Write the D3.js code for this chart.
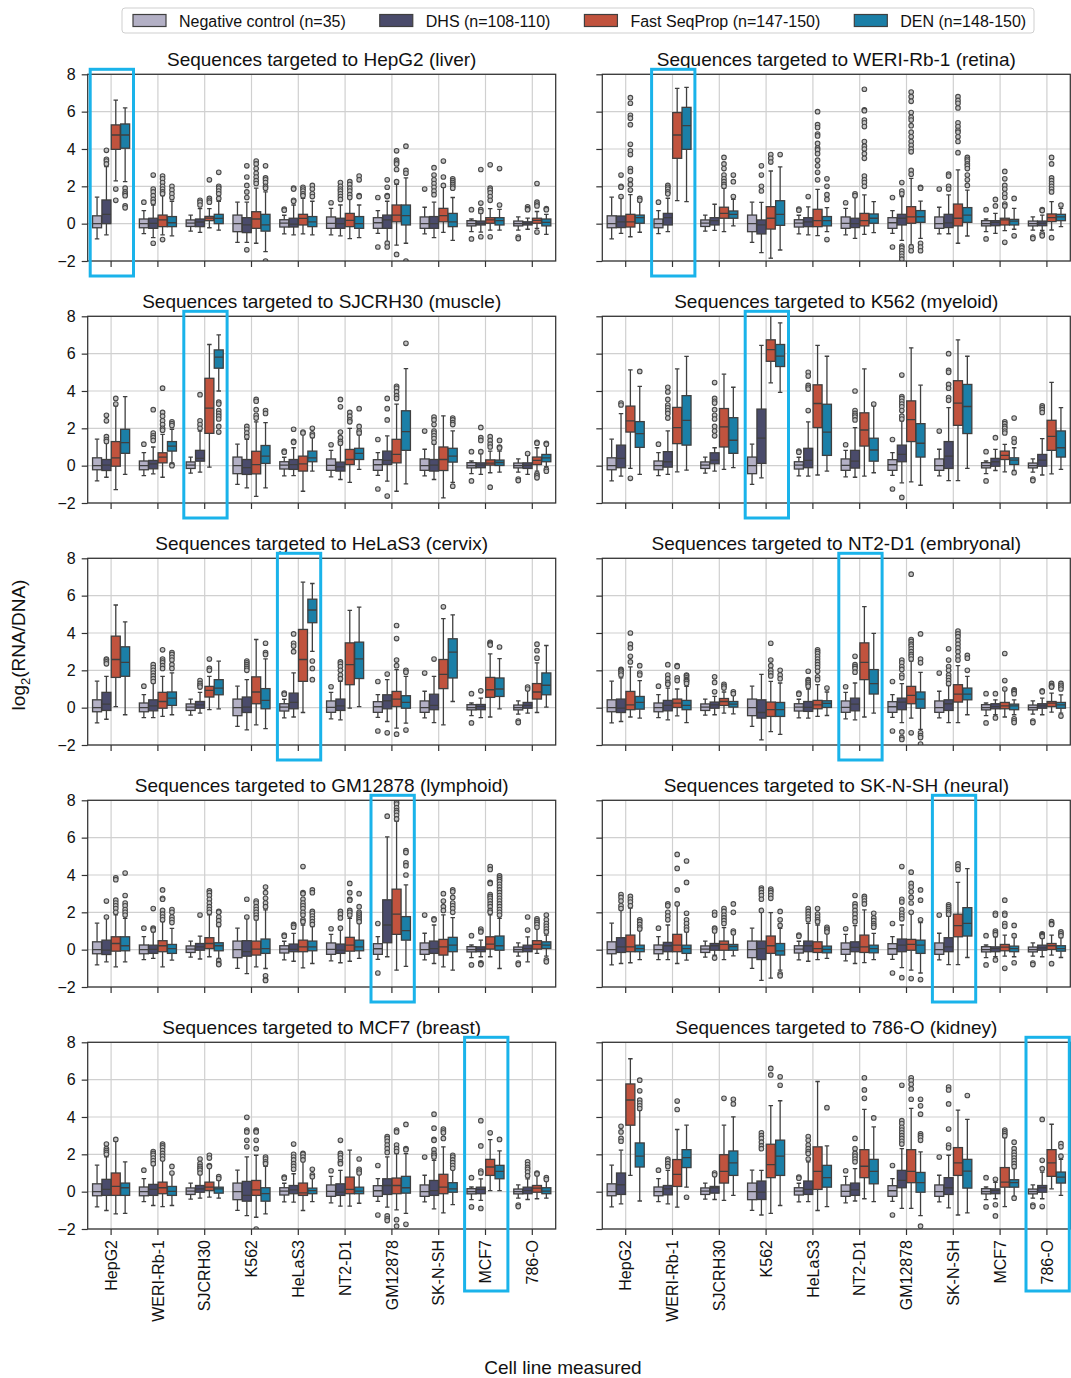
<!DOCTYPE html>
<html>
<head>
<meta charset="utf-8">
<script src="https://cdn.jsdelivr.net/npm/d3@7"></script>
<style>
  body { margin: 0; background: #fff; }
  text { font-family: "Liberation Sans", Arial, Helvetica, sans-serif; fill: #111; }
</style>
</head>
<body>
<svg id="chart" width="1071" height="1378"></svg>
<script>
// Cell lines in which expression was measured (x categories, same in every panel)
const cellLines = ["HepG2", "WERI-Rb-1", "SJCRH30", "K562", "HeLaS3", "NT2-D1", "GM12878", "SK-N-SH", "MCF7", "786-O"];
// Tissue of origin for each targeted cell line (panel titles)
const tissues = ["liver", "retina", "muscle", "myeloid", "cervix", "embryonal", "lymphoid", "neural", "breast", "kidney"];
const seriesNames = ["Negative control (n=35)", "DHS (n=108-110)", "Fast SeqProp (n=147-150)", "DEN (n=148-150)"];
const yTicks = [-2, 0, 2, 4, 6, 8];

// Box statistics: [lower whisker, Q1, median, Q3, upper whisker, [outliers]]
// Negative controls are the same sequences in every panel, one box per measured cell line.
const negControl = [
  [-0.82, -0.22, 0, 0.42, 1.42, []],
  [-0.53, -0.22, 0, 0.25, 0.7, [1.15]],
  [-0.4, -0.15, 0.03, 0.2, 0.46, []],
  [-1.0, -0.43, 0, 0.46, 1.15, []],
  [-0.55, -0.18, 0.03, 0.21, 0.45, [0.78, 0.72]],
  [-0.6, -0.25, 0.02, 0.36, 0.82, [1.12]],
  [-0.52, -0.25, 0.05, 0.32, 0.7, [1.4, -1.25]],
  [-0.55, -0.25, 0, 0.36, 0.88, [1.85]],
  [-0.43, -0.12, 0, 0.16, 0.25, [0.75, -0.82]],
  [-0.35, -0.12, 0, 0.14, 0.36, [-0.72, -0.8]]
];

// One array per targeted cell line; each row = measured line, boxes = [DHS, Fast SeqProp, DEN]
const targetHepG2 = [
  [[-0.6, 0, 0.5, 1.27, 3.05, [3.93, 3.45, 3.35, 3.2]], [2.29, 3.98, 4.75, 5.29, 6.62, [1.85, 1.25]], [2.25, 4.04, 4.75, 5.34, 6.2, [1.9, 1.7, 1.6, 1.5, 0.95, 0.85]]],
  [[-0.75, -0.25, 0.02, 0.29, 1.0, [2.6, 1.85, 1.7, 1.5, 1.3, 1.15, -1.05]], [-0.6, -0.16, 0.2, 0.46, 1.5, [2.55, 2.4, 2.2, 2.0, 1.85, 1.7, 1.6, -0.85]], [-0.65, -0.16, 0.05, 0.38, 1.2, [2.0, 1.8, 1.6, 1.4]]],
  [[-0.47, -0.16, 0.09, 0.25, 0.8, [1.25, 1.15, 1.0]], [-0.22, 0.16, 0.3, 0.39, 0.8, [2.35, 1.35, 1.25, 1.15]], [-0.35, 0, 0.28, 0.5, 1.2, [2.75, 2.0, 1.9, 1.75, 1.6, 1.35]]],
  [[-1.0, -0.48, -0.07, 0.32, 1.15, [3.1, 2.5, 2.05, 1.7, 1.4, -1.4]], [-1.05, -0.25, 0.25, 0.64, 1.9, [3.35, 3.2, 2.95, 2.7, 2.5, 2.3, 2.15]], [-1.5, -0.4, -0.07, 0.5, 1.7, [3.1, 2.45, 2.35, 2.2, 2.0, 1.9, -2.0]]],
  [[-0.6, -0.18, -0.03, 0.29, 1.0, [1.9, 1.85, 1.25, 1.2]], [-0.55, -0.07, 0.28, 0.5, 1.35, [1.95, 1.85, 1.75, 1.6, 1.5]], [-0.6, -0.16, 0.1, 0.38, 1.2, [2.05, 1.85, 1.6, 1.45]]],
  [[-0.65, -0.25, 0, 0.29, 1.0, [2.2, 2.0, 1.85, 1.75, 1.6, 1.45, 1.3]], [-0.8, -0.16, 0.18, 0.55, 1.35, [2.25, 2.1, 1.9, 1.75, 1.55, 1.4]], [-0.75, -0.25, 0, 0.38, 1.0, [2.55, 2.35, 1.5, 1.45]]],
  [[-0.95, -0.25, 0.2, 0.46, 1.2, [2.35, 1.95, 1.5, 1.45, -1.05, -1.25]], [-1.15, 0.1, 0.46, 1.0, 2.1, [3.9, 3.4, 3.3, 3.2, 2.9, 2.25, -1.65]], [-1.05, -0.07, 0.43, 1.0, 2.45, [4.15, 2.85, 2.7, -2.0]]],
  [[-0.75, -0.25, 0, 0.38, 1.15, [3.0, 2.6, 2.35, 2.15, 1.95, 1.75, 1.55]], [-0.47, 0.1, 0.43, 0.82, 1.95, [3.35, 2.5, 2.05]], [-0.9, -0.16, 0.1, 0.55, 1.4, [2.4, 2.3, 2.2, 2.1, 2.0, 1.9]]],
  [[-0.45, -0.07, 0.02, 0.14, 0.55, [2.9, 1.1, 0.75, 0.65, -0.7]], [-0.35, 0.02, 0.2, 0.32, 0.8, [3.15, 1.9, 1.8, 1.65, 1.45, 1.25, -0.7]], [-0.35, -0.07, 0.16, 0.32, 0.77, [2.95, 1.0]]],
  [[-0.3, -0.07, 0.02, 0.1, 0.3, [0.9, 0.8, 0.75]], [-0.25, 0.02, 0.18, 0.29, 0.65, [2.15, 1.15, 1.05, 0.95, -0.45]], [-0.57, -0.12, 0.07, 0.25, 0.5, [0.8, 0.75]]]
];

const targetWERI = [
  [[-0.52, -0.21, 0.1, 0.41, 1.36, [2.6, 2.0, 1.95, 1.45]], [-0.7, -0.18, 0.1, 0.5, 1.55, [6.75, 6.45, 5.8, 5.65, 5.3, 4.25, 3.9, 3.7, 2.95, 2.8, 2.35, 2.1, 1.8]], [-0.46, 0.02, 0.32, 0.46, 1.18, [1.35, 1.25]]],
  [[-0.43, -0.07, 0.32, 0.55, 1.36, [2.05, 1.95, 1.85, 1.7, 1.6]], [1.23, 3.5, 4.75, 5.95, 7.25, []], [1.18, 3.98, 5.25, 6.23, 7.3, []]],
  [[-0.36, -0.07, 0.16, 0.32, 1.04, []], [-0.43, 0.29, 0.55, 0.88, 1.9, [3.55, 3.2, 2.95, 2.6, 2.4, 2.25, 2.1, 2.0]], [-0.12, 0.29, 0.5, 0.68, 1.3, [2.6, 2.25, 1.45]]],
  [[-1.55, -0.55, -0.07, 0.2, 1.14, [3.1, 2.6, 2.0, 1.75]], [-1.85, -0.29, 0.29, 0.91, 2.82, [3.7, 3.5, 3.3]], [-1.41, -0.09, 0.5, 1.23, 3.04, [3.7]]],
  [[-0.6, -0.16, 0.1, 0.32, 0.9, [1.45]], [-0.64, -0.16, 0.16, 0.77, 1.84, [6.0, 5.3, 5.15, 4.8, 4.7, 4.3, 4.05, 3.95, 3.75, 3.4, 3.1, 2.75, 2.35]], [-0.43, -0.12, 0.16, 0.38, 0.86, [2.4, 2.0, 1.55, 1.3, -0.85]]],
  [[-0.79, -0.21, 0, 0.29, 1.45, [1.6, 1.5]], [-0.57, -0.12, 0.16, 0.55, 1.54, [7.2, 6.1, 6.05, 5.55, 5.4, 5.2, 4.4, 4.15, 4.0, 3.75, 3.5, 2.55, 2.35, 2.2, 2.0]], [-0.48, 0.02, 0.29, 0.52, 1.18, []]],
  [[-0.9, -0.07, 0.29, 0.5, 1.45, [2.2, 1.75, 1.6, -1.2, -1.3, -1.45, -1.6, -1.75, -1.9]], [-1.14, 0.02, 0.36, 0.91, 2.43, [7.05, 6.8, 6.55, 5.95, 5.7, 5.55, 5.25, 4.9, 4.65, 4.4, 4.2, 4.0, 3.85, 2.85, 2.65, -1.25, -1.45]], [-0.79, 0.07, 0.37, 0.7, 1.21, [1.95, 1.9, -1.05, -1.25, -1.45]]],
  [[-0.54, -0.21, 0.04, 0.5, 1.54, [2.65, 2.55, 2.0, 1.85]], [-1.05, -0.12, 0.29, 1.05, 2.88, [6.8, 6.6, 6.45, 6.2, 5.4, 5.2, 5.0, 4.9, 4.65, 4.4, 3.8]], [-0.66, 0.07, 0.46, 0.86, 1.8, [3.55, 3.45, 3.35, 3.2, 3.1, 2.95, 2.6, 2.35, 2.05]]],
  [[-0.52, -0.11, 0.07, 0.16, 0.55, [1.3, 0.95]], [-0.37, -0.07, 0.2, 0.29, 0.91, [2.8, 2.4, 2.05, 1.85, 1.6, 1.4, 1.05, 0.95, -1.0]], [-0.3, -0.07, 0.14, 0.23, 0.82, [1.35, -0.65]]],
  [[-0.36, -0.11, 0.02, 0.14, 0.46, [0.75, 0.7, -0.55, -0.65]], [-0.34, 0.11, 0.32, 0.52, 1.18, [3.55, 3.2, 2.45, 2.3, 2.15, 2.0, 1.85, 1.7, -0.75]], [-0.16, 0.16, 0.36, 0.5, 0.82, [1.0]]]
];

const targetSJCRH30 = [
  [[-0.62, -0.26, 0.03, 0.33, 1.23, [2.7, 2.4, 1.55, 1.4, 1.3]], [-1.28, -0.03, 0.42, 1.29, 3.2, [3.6, 3.3]], [-0.47, 0.66, 1.23, 1.95, 3.7, []]],
  [[-0.44, -0.17, 0.1, 0.28, 1.0, [3.0, 1.75, 1.6, 1.5, 1.35]], [-0.62, 0.15, 0.46, 0.69, 1.68, [4.15, 2.85, 2.65, 2.4, 2.2, 2.0, 1.9]], [0.15, 0.78, 1.05, 1.29, 1.95, [2.35, 2.25, 2.15, 0.05, 0.0]]],
  [[-0.35, 0.24, 0.39, 0.82, 1.85, [3.8, 2.4, 2.2, 2.0]], [-0.08, 1.73, 3.08, 4.68, 6.49, []], [4.0, 5.22, 5.81, 6.2, 7.0, [3.4, 3.3, 2.95, 2.8, 2.65, 2.5, 2.1, 1.8]]],
  [[-1.19, -0.47, -0.11, 0.33, 1.41, [2.1, 1.95, 1.75, 1.55]], [-1.64, -0.44, 0.06, 0.77, 2.35, [3.55, 3.45, 3.0, 2.7, 2.55]], [-1.19, 0.12, 0.51, 1.08, 2.3, [2.95, 2.8]]],
  [[-0.53, -0.2, 0.06, 0.33, 0.96, [1.95, 1.3, 1.25]], [-1.37, -0.29, 0.1, 0.51, 1.7, [1.8, 1.75]], [-0.29, 0.21, 0.42, 0.78, 1.5, [2.0, 1.7, 1.6]]],
  [[-0.74, -0.29, -0.06, 0.19, 1.14, [3.55, 3.15, 1.8, 1.5, 1.3, 1.2]], [-0.89, 0.06, 0.33, 0.87, 2.0, [2.85, 2.65, 2.45, 2.35]], [-0.2, 0.33, 0.66, 0.93, 1.65, [3.05, 2.1, 1.85, 1.75]]],
  [[-0.83, 0.06, 0.28, 0.78, 1.59, [3.6, 3.05, 2.45, -1.63]], [-1.37, 0.15, 0.6, 1.41, 3.3, [4.25, 4.15, 3.95, 3.75, 3.6]], [-0.98, 0.82, 1.82, 2.94, 5.2, [6.55]]],
  [[-0.74, -0.29, 0.03, 0.33, 1.14, [2.6, 2.45, 2.2, 1.85, 1.75, 1.6, 1.45, 1.25]], [-1.73, -0.26, 0.33, 1.0, 2.67, []], [-0.89, 0.19, 0.51, 0.93, 1.86, [2.55, 2.45, 2.3, 2.2, -1.1]]],
  [[-0.47, -0.11, 0.03, 0.15, 0.64, [2.05, 1.5, 1.35, 0.75]], [-0.38, 0.03, 0.14, 0.31, 0.78, [1.55, 1.35, 1.15, 1.0, -1.15]], [-0.35, 0.01, 0.17, 0.3, 0.78, [1.35, 1.0, 0.95]]],
  [[-0.47, -0.15, 0.01, 0.15, 0.55, [0.65]], [-0.29, 0.06, 0.28, 0.46, 0.96, [1.25, 1.2, -0.45, -0.55, -0.65]], [-0.05, 0.21, 0.42, 0.6, 1.1, [1.2, 1.15, -0.2, -0.3]]]
];

const targetK562 = [
  [[-0.56, -0.11, 0.39, 1.1, 2.79, [3.35, 3.25]], [-0.15, 1.8, 2.4, 3.19, 5.13, [-0.68]], [-0.47, 0.98, 1.72, 2.36, 4.25, [5.05]]],
  [[-0.47, -0.08, 0.21, 0.75, 1.86, [4.2, 3.95, 3.55, 3.25, 3.1, 2.95, 2.8, 2.55]], [-0.33, 1.18, 2.04, 3.12, 5.18, []], [-0.24, 1.1, 2.43, 3.75, 5.85, []]],
  [[-0.29, 0.1, 0.3, 0.69, 0.96, [4.45, 3.6, 3.45, 3.35, 3.0, 2.7, 2.5, 2.1, 1.85, 1.6]], [-0.2, 1.0, 2.08, 3.06, 4.9, []], [-0.11, 0.66, 1.36, 2.57, 4.2, []]],
  [[-0.65, 0.12, 1.47, 3.03, 6.44, []], [4.43, 5.59, 6.22, 6.74, 8.0, []], [3.93, 5.31, 5.87, 6.49, 7.65, []]],
  [[-0.56, -0.11, 0.28, 0.93, 2.34, [5.0, 4.8, 4.3, 4.2, 4.1, 2.95]], [-0.5, 2.04, 3.33, 4.33, 6.44, []], [-0.29, 0.55, 1.8, 3.29, 5.86, []]],
  [[-0.62, -0.13, 0.24, 0.82, 2.04, [4.0, 2.95, 2.8, 2.7, 2.6, 2.45]], [-0.56, 1.05, 1.91, 2.83, 5.18, []], [-0.38, 0.24, 0.84, 1.47, 3.2, [3.3]]],
  [[-0.92, 0.21, 0.6, 1.1, 2.4, [4.85, 3.7, 3.6, 3.45, 3.3, 3.15, 2.95, 2.65, 2.5, -1.7]], [-0.87, 1.29, 2.47, 3.47, 6.31, []], [-1.05, 0.46, 1.2, 2.25, 4.31, []]],
  [[-0.8, -0.15, 0.51, 1.29, 3.11, [6.0, 5.1, 5.0, 4.35, 4.15, 3.65, 3.5]], [-0.8, 2.16, 3.35, 4.55, 6.74, []], [-0.15, 1.72, 3.17, 4.35, 5.86, []]],
  [[-0.26, -0.03, 0.21, 0.39, 0.87, [1.5]], [-0.33, 0.33, 0.55, 0.78, 1.14, [2.35, 2.25, 2.1, 2.0, 1.85, 1.75]], [-0.26, 0.06, 0.3, 0.42, 0.96, [2.55, 1.45, 1.25, -0.38]]],
  [[-0.5, -0.03, 0.3, 0.6, 1.45, [3.2, 3.1, 3.0, 2.85]], [-0.44, 0.82, 1.57, 2.43, 4.46, []], [-0.2, 0.46, 0.96, 1.86, 3.11, []]]
];

const targetHeLaS3 = [
  [[-0.62, -0.15, 0.19, 0.82, 1.68, [2.6, 2.55, 2.45, 2.35]], [0.06, 1.62, 2.58, 3.83, 5.5, []], [-0.38, 1.68, 2.43, 3.26, 4.59, []]],
  [[-0.53, -0.17, 0.1, 0.42, 1.32, [2.3, 2.15, 2.0, 1.85, 1.7, 1.55, 1.4]], [-0.47, -0.03, 0.33, 0.82, 1.68, [3.1, 2.6, 2.5, 2.4, 2.25, 2.1]], [-0.38, 0.12, 0.51, 0.84, 1.86, [2.95, 2.85, 2.7, 2.55, 2.3, 2.1]]],
  [[-0.29, -0.03, 0.15, 0.33, 0.82, [1.45, 1.3, 1.2, 1.1]], [-0.11, 0.57, 0.93, 1.14, 1.68, [2.6, 2.1, 2.0]], [-0.06, 0.69, 1.05, 1.5, 2.49, []]],
  [[-1.19, -0.26, 0.03, 0.57, 1.5, [2.5, 2.4, 2.3, 2.2, 2.1, 2.0]], [-0.92, 0.21, 0.84, 1.65, 3.65, []], [-1.12, -0.06, 0.39, 1.02, 2.61, [3.45, 2.95, 2.85]]],
  [[-0.5, -0.06, 0.28, 0.78, 1.86, [3.95, 3.45, 3.3, 3.0]], [-0.26, 1.41, 2.58, 4.19, 6.72, []], [3.02, 4.55, 5.23, 5.81, 6.65, [2.5, 2.1, 1.5]]],
  [[-0.65, -0.15, 0.1, 0.46, 1.41, [2.45, 2.35, 2.2, 2.0, 1.75, 1.55]], [-0.03, 1.23, 2.31, 3.47, 5.21, []], [0.06, 1.56, 2.61, 3.51, 5.39, []]],
  [[-0.74, -0.06, 0.37, 0.69, 1.5, [1.8, -1.35]], [-1.1, 0.06, 0.46, 0.87, 2.04, [4.4, 3.7, 2.55, 2.25, -1.42]], [-0.83, -0.03, 0.28, 0.64, 1.68, [2.0, 1.9, -1.2]]],
  [[-0.8, -0.11, 0.12, 0.72, 1.68, [2.6]], [-0.92, 1.02, 1.78, 2.58, 4.77, [5.4]], [0.33, 1.59, 2.97, 3.69, 4.97, []]],
  [[-0.53, -0.11, 0.06, 0.17, 0.51, [0.9]], [-0.5, 0.55, 0.96, 1.62, 2.88, [3.5, 3.45, 3.4, 3.35]], [-0.06, 0.6, 1.0, 1.59, 2.63, [3.25]]],
  [[-0.29, -0.03, 0.12, 0.28, 0.96, [1.1, 1.0]], [-0.26, 0.46, 0.84, 1.29, 2.4, [3.4, 3.05, 2.65]], [0.03, 0.69, 1.2, 1.86, 3.33, []]]
];

const targetNT2D1 = [
  [[-0.74, -0.26, -0.03, 0.46, 1.59, [2.05, 2.0, 1.95, 1.85, 1.75]], [-0.5, -0.11, 0.15, 0.87, 2.18, [4.0, 3.4, 3.2, 2.75, 2.45]], [-0.56, -0.08, 0.28, 0.6, 1.45, [2.25, 1.85, 1.75]]],
  [[-0.65, -0.17, 0.12, 0.39, 1.05, [2.3, 1.75, 1.55, 1.35, 1.25]], [-0.44, 0.01, 0.24, 0.46, 1.0, [2.25, 2.2, 1.6, 1.45]], [-0.8, -0.11, 0.12, 0.39, 1.14, [1.75, 1.7, 1.6, 1.5, 1.45, 1.4, 1.3]]],
  [[-0.38, -0.03, 0.15, 0.3, 0.6, [1.65, 1.35, 0.85]], [-0.29, 0.12, 0.33, 0.49, 0.84, [1.25, 1.15, 1.05]], [-0.33, 0.03, 0.19, 0.33, 0.69, [0.85, 0.75]]],
  [[-1.73, -0.56, -0.26, 0.42, 1.78, []], [-1.28, -0.47, -0.11, 0.3, 1.41, [3.45, 2.55, 2.25, 2.0, 1.85, 1.7]], [-1.43, -0.47, -0.11, 0.28, 1.32, [2.0, 1.75, 1.55]]],
  [[-0.56, -0.2, 0.01, 0.33, 1.0, [1.95, 1.5, 1.45, 1.35, 1.25, 1.15]], [-0.47, -0.06, 0.15, 0.39, 1.23, [3.1, 3.0, 2.9, 2.75, 2.6, 2.45, 2.3, 2.15, 1.95, 1.65, 1.5]], [-0.42, 0.01, 0.23, 0.37, 0.84, [1.05]]],
  [[-0.65, -0.17, 0.19, 0.51, 1.32, [2.75, 2.3, 2.2, 2.1, 1.9]], [-0.5, 1.5, 2.43, 3.47, 5.41, []], [-0.29, 0.73, 1.29, 2.04, 3.98, []]],
  [[-0.8, -0.11, 0.3, 0.51, 1.29, [2.55, 2.4, 2.2, 2.05, 1.75, 1.6, -1.3, -1.6, -1.7]], [-0.56, 0.21, 0.66, 1.14, 2.49, [7.15, 3.65, 3.55, 3.4, 3.3, 3.15, 3.0, 2.85, 2.75, 2.6, -1.35]], [-1.16, -0.03, 0.46, 0.84, 1.89, [3.95, 2.6, 2.4, -1.35, -1.5, -1.6, -1.95]]],
  [[-0.8, -0.15, 0.21, 0.42, 1.18, [3.15, 2.55, 2.2, 2.0, 1.75, 1.6, 1.45, 1.3]], [-0.8, 0.3, 0.73, 1.23, 2.25, [4.1, 3.95, 3.8, 3.6, 3.4, 3.2, 3.0, 2.75, 2.55]], [-0.38, 0.42, 0.73, 1.05, 1.68, [2.8, 2.65, 2.0]]],
  [[-0.38, -0.06, 0.06, 0.21, 0.42, [0.75, -0.55]], [-0.5, -0.06, 0.1, 0.28, 0.96, [2.9, 1.45, 1.0]], [-0.38, -0.11, 0.1, 0.19, 0.42, [0.95, 0.9, 0.85, 0.75, -0.6, -0.7, -0.8]]],
  [[-0.38, -0.03, 0.1, 0.21, 0.51, [0.9, 0.85]], [-0.24, 0.06, 0.24, 0.33, 0.78, [1.3, 1.2, 1.15, 1.1]], [-0.29, -0.03, 0.15, 0.28, 0.69, [1.3, 1.2, 1.1, 1.0, -0.45]]]
];

const targetGM12878 = [
  [[-0.65, -0.26, -0.03, 0.51, 1.68, [2.6, 1.75]], [-0.92, -0.08, 0.33, 0.69, 1.86, [3.85, 3.75, 2.65, 2.5, 2.35, 2.2, 2.0]], [-0.65, -0.06, 0.21, 0.69, 1.68, [4.1, 2.9, 2.5, 2.35, 2.15, 2.0, 1.85]]],
  [[-0.47, -0.2, 0.01, 0.24, 0.96, [2.2, 1.15, 1.1, 1.05]], [-0.92, -0.11, 0.21, 0.48, 1.5, [3.2, 2.75, 2.7, 2.1, 1.9, 1.75, 1.6]], [-0.56, -0.2, 0.06, 0.28, 1.14, [2.15, 2.0, 1.75, 1.6, 1.45]]],
  [[-0.5, -0.03, 0.15, 0.33, 0.73, [1.85]], [-0.38, 0.06, 0.33, 0.64, 1.86, [3.15, 3.05, 2.9, 2.7, 2.5, 2.3, 2.15, 2.0]], [-0.47, -0.06, 0.21, 0.37, 1.23, [2.05, 2.0, 1.75, 1.55, 1.35, -0.6, -0.75, -0.8]]],
  [[-1.28, -0.35, -0.11, 0.48, 1.68, [2.7, 1.75]], [-0.92, -0.29, 0.03, 0.46, 1.59, [2.6, 2.5, 2.3, 2.15, 2.0, 1.85, 1.7]], [-1.01, -0.2, 0.06, 0.57, 2.13, [3.35, 3.05, 2.75, 2.5, 2.3, -1.4, -1.6, -1.65]]],
  [[-0.62, -0.11, 0.01, 0.3, 0.87, [1.35, 1.3, 1.2]], [-0.98, -0.11, 0.15, 0.51, 1.32, [4.45, 3.05, 3.0, 2.7, 2.5, 2.35, 2.2, 2.0, 1.85, 1.6, 1.5]], [-0.74, -0.06, 0.15, 0.46, 1.23, [3.2, 3.05, 2.05, 1.95, 1.8, 1.65, 1.5, 1.35]]],
  [[-0.7, -0.2, -0.03, 0.3, 1.1, [2.05, 1.9, 1.7, 1.15]], [-0.62, -0.08, 0.24, 0.66, 1.68, [3.55, 3.05, 2.7, 2.65, 2.1, 2.0, 1.85]], [-0.47, -0.06, 0.15, 0.51, 1.41, [3.0, 2.3, 2.0, 1.9, 1.8, 1.7, 1.6, 1.5]]],
  [[-0.38, 0.37, 1.32, 2.67, 6.04, [7.15]], [-1.1, 0.82, 1.9, 3.24, 6.89, [7.9, 7.8, 7.6, 7.45, 7.35, 7.2, 7.0]], [-0.89, 0.51, 1.02, 1.77, 3.47, [5.3, 5.2, 4.65, 4.5, 4.0]]],
  [[-0.74, -0.2, 0.06, 0.46, 1.32, [1.65, 1.6]], [-0.92, -0.29, 0.15, 0.55, 1.86, [3.0, 2.6, 2.3, 2.1]], [-1.1, -0.11, 0.24, 0.66, 1.72, [3.2, 3.1, 2.8, 2.5, 2.35, 2.2, 2.0]]],
  [[-0.38, -0.11, 0.01, 0.15, 0.51, [1.1, 1.0, 0.95, -0.7, -0.75, -0.8]], [-0.38, 0.03, 0.3, 0.69, 1.86, [4.45, 4.3, 3.6, 3.55, 2.95, 2.85, 2.75, 2.6, 2.45, 2.3, 2.1, 2.0]], [-1.01, -0.03, 0.21, 0.73, 1.68, [3.95, 3.85, 3.75, 3.65, 3.5, 3.35, 3.2, 3.05, 2.9, 2.75, 2.6, 2.45, 2.3, 2.15, 2.0, 1.85]]],
  [[-0.65, -0.11, 0.06, 0.24, 0.69, [1.75, 1.05]], [-0.2, 0.03, 0.28, 0.48, 1.14, [1.65, 1.55, 1.45, 1.35, 1.2]], [-0.35, 0.06, 0.24, 0.42, 0.78, [1.85, 1.6, 1.4, 1.25, 1.1, 0.95, -0.55, -0.65]]]
];

const targetSKNSH = [
  [[-0.74, -0.15, 0.15, 0.64, 2.13, [2.95, 2.8, 2.6, 2.35, 2.2]], [-0.7, -0.11, 0.15, 0.78, 2.22, [2.85, 2.7, 2.55, 2.35]], [-0.53, -0.11, 0.06, 0.24, 1.05, [1.6, 1.5, 1.35, 1.2, 1.1]]],
  [[-0.53, -0.11, 0.21, 0.39, 1.32, [2.45, 2.35, 2.0, 1.8, 1.6]], [-0.74, -0.11, 0.24, 0.82, 2.4, [5.1, 4.35, 3.2, 2.45]], [-0.56, -0.2, 0.06, 0.24, 0.96, [4.75, 3.6, 1.95, 1.6, 1.4, 1.2, 1.05]]],
  [[-0.3, -0.03, 0.21, 0.33, 0.96, [2.0, 1.85, 1.15, 1.1, 1.0, -0.45]], [-0.53, -0.03, 0.28, 0.46, 1.18, [2.2, 2.05, 1.85, 1.7, 1.55, 1.4]], [-0.33, -0.03, 0.17, 0.28, 0.87, [2.45, 2.0, 1.0, 0.9]]],
  [[-1.64, -0.53, 0.06, 0.46, 2.04, [3.3, 3.2, 3.05, 2.9, 2.7, 2.1]], [-1.52, -0.2, 0.21, 0.73, 1.98, [3.25, 3.15, 3.05, 2.9, 2.75]], [-1.1, -0.29, -0.06, 0.33, 1.14, [2.05, 1.6, 1.3, -1.3, -1.4]]],
  [[-0.62, -0.11, 0.21, 0.46, 1.41, [2.2, 2.05, 1.9, 1.75, 1.6]], [-0.53, -0.15, 0.06, 0.42, 1.32, [2.2, 1.9, 1.75, 1.6, 1.5]], [-0.47, -0.17, 0.01, 0.19, 0.87, [1.2, 1.1, 1.05, 0.95]]],
  [[-0.74, -0.11, 0.12, 0.42, 1.29, [2.9, 2.45, 2.3, 2.1, 1.9, 1.7, 1.5]], [-0.69, -0.15, 0.15, 0.78, 2.13, [2.85, 2.75, 2.6, 2.45]], [-0.53, -0.17, 0.06, 0.24, 0.87, [1.95, 1.7, 1.55, 1.4, 1.3, 1.2]]],
  [[-0.96, -0.11, 0.24, 0.57, 1.32, [4.45, 2.7, 2.55, 2.15, 1.95, 1.8, 1.65, -1.5]], [-1.1, -0.03, 0.28, 0.55, 1.95, [4.15, 3.55, 3.35, 3.1, 2.8, 2.5, 2.0, -1.55]], [-1.25, -0.2, 0.24, 0.51, 1.45, [3.2, 2.65, 1.6, -1.6]]],
  [[-0.8, -0.11, 0.15, 0.64, 1.78, [2.4, 2.3, 2.2, 2.1, 2.0, 1.9]], [-0.8, 0.69, 1.29, 1.9, 3.6, [4.6, 4.45, 4.3]], [-0.42, 0.73, 1.41, 2.25, 4.34, []]],
  [[-0.38, -0.11, 0.06, 0.15, 0.69, [1.95, 1.85, 1.0, 0.9, 0.8, -0.55]], [-0.35, -0.06, 0.14, 0.28, 0.78, [2.65, 1.95, 1.85, 1.4, 1.25, -1.0]], [-0.38, -0.11, 0.06, 0.19, 0.66, [1.3, 0.75, -0.7]]],
  [[-0.38, -0.03, 0.1, 0.24, 0.6, [0.85, 0.8, 0.75, 0.7]], [-0.29, 0.01, 0.21, 0.33, 0.78, [1.5, 1.4, 1.35, -0.75]], [-0.42, -0.08, 0.06, 0.21, 0.64, [0.95, 0.85, 0.75]]]
];

const targetMCF7 = [
  [[-1.01, -0.2, 0.12, 0.66, 1.86, [2.55, 2.3, 2.2, 2.1, 2.0]], [-1.19, -0.2, 0.28, 1.0, 2.7, [2.8]], [-1.16, -0.2, 0.21, 0.46, 1.59, []]],
  [[-0.74, -0.2, 0.12, 0.39, 1.41, [2.15, 2.05, 1.95, 1.8, 1.65, 1.5]], [-0.8, -0.11, 0.21, 0.51, 1.68, [2.55, 2.45, 2.35, 2.2, 2.05, 1.9, 1.75]], [-0.74, -0.2, 0.01, 0.28, 0.96, [1.35, 1.0]]],
  [[-0.35, -0.03, 0.15, 0.33, 0.96, [1.75, 1.5, 1.35, 1.25, 1.15, 1.0]], [-0.29, 0.06, 0.24, 0.51, 1.32, [1.95, 1.8, 1.4, 1.35]], [-0.35, -0.08, 0.15, 0.24, 0.6, [0.8, 0.7]]],
  [[-1.28, -0.51, -0.2, 0.55, 1.86, [3.98, 3.3, 3.2, 2.75, 2.4]], [-1.37, -0.2, 0.1, 0.6, 1.95, [3.3, 3.25, 3.2, 2.75, 2.3, -2.0]], [-1.19, -0.51, -0.11, 0.21, 1.36, [1.85, 1.75, 1.6, 1.5]]],
  [[-0.56, -0.11, 0.1, 0.33, 0.96, [2.55, 2.0, 1.85, 1.7, 1.5, 1.35, 1.2]], [-1.01, -0.2, -0.06, 0.46, 1.68, [2.05, 2.0, 1.85, 1.7]], [-0.53, -0.11, 0.06, 0.19, 0.78, [1.2, 0.9, 0.8]]],
  [[-0.78, -0.2, -0.03, 0.42, 1.14, [2.75, 2.05, 1.95, 1.8, 1.6, 1.5]], [-0.78, -0.11, 0.12, 0.78, 2.22, []], [-0.62, -0.11, 0.03, 0.24, 0.96, [1.75, 1.2, 1.1, 1.0]]],
  [[-0.83, -0.15, 0.33, 0.69, 1.86, [2.95, 2.85, 2.7, 2.5, 2.3, 2.1, -1.3, -1.45, -1.55]], [-0.98, -0.11, 0.33, 0.73, 2.04, [3.3, 3.2, 2.5, 2.3, 2.15, -1.5, -1.85]], [-1.16, -0.08, 0.21, 0.82, 2.04, [3.6, 2.3, 2.25, -1.75]]],
  [[-0.92, -0.2, 0.06, 0.6, 1.68, [4.15, 3.4, 2.8, 2.75, 2.25, 2.05, 1.95, 1.85]], [-1.14, -0.11, 0.24, 0.93, 2.4, [3.35, 3.25, 3.15, 2.85]], [-0.69, -0.03, 0.15, 0.48, 1.2, [1.95, 1.85, 1.7, 1.55, 1.4, 1.25]]],
  [[-0.47, -0.11, 0.12, 0.24, 0.69, [3.8, 2.45, 1.1, 1.0, -0.9]], [0.06, 0.87, 1.32, 1.73, 2.79, [3.15]], [0.06, 0.69, 1.09, 1.41, 2.18, [2.8]]],
  [[-0.42, -0.11, 0.06, 0.24, 0.69, [1.6, 1.45, 1.3, 1.2, 1.05, 0.85]], [-0.38, -0.03, 0.19, 0.33, 0.9, [1.0, 0.95]], [-0.35, -0.11, 0.03, 0.21, 0.6, [0.75, 0.65]]]
];

const target786O = [
  [[-0.65, -0.15, 0.37, 1.0, 2.22, [3.5, 3.2, 2.85, 2.7]], [0.87, 3.56, 4.91, 5.77, 7.12, []], [-0.5, 1.32, 1.9, 2.61, 4.37, [5.97, 5.4, 4.9, 4.75, 4.6, 4.45]]],
  [[-0.65, -0.17, 0.15, 0.33, 1.14, [1.75, 1.65, 1.5, 1.35]], [-0.83, 0.28, 0.93, 1.72, 3.33, [4.85, 4.4]], [0.24, 1.29, 1.82, 2.25, 3.56, [-0.3]]],
  [[-0.42, -0.08, 0.21, 0.28, 0.87, [1.0, 0.9]], [-0.47, 0.46, 1.09, 1.98, 3.56, [5.0]], [-0.2, 0.87, 1.54, 2.18, 4.01, [4.95, 4.7]]],
  [[-1.25, -0.42, -0.03, 0.57, 1.14, [3.15, 3.0, 2.85, 2.65, 2.45, 2.3]], [-1.16, 0.75, 1.45, 2.54, 4.61, [6.6, 6.25]], [-0.74, 0.87, 1.9, 2.76, 4.87, [6.15, 5.7]]],
  [[-0.53, -0.15, 0.12, 0.57, 1.59, [2.95, 2.75, 2.5, 2.3, 2.15, 2.05, 1.75]], [-1.01, 0.12, 1.09, 2.4, 5.9, []], [-0.8, 0.24, 0.75, 1.41, 2.45, [4.5]]],
  [[-0.5, -0.2, 0.1, 0.46, 1.23, [2.85, 2.3, 2.05, 1.9, 1.75, 1.6]], [-0.38, 0.75, 1.36, 2.25, 4.41, [6.1, 5.45, 5.0]], [-0.53, 0.42, 1.09, 1.73, 3.47, [3.95]]],
  [[-0.89, 0.21, 0.6, 1.14, 2.31, [5.7, 3.8, 3.65, 3.45, 3.3, 3.15, 3.0, 2.85, 2.7, 2.55]], [-0.89, 0.48, 1.09, 2.25, 4.46, [6.1, 5.95, 5.75, 5.5, 4.95]], [-1.28, -0.03, 0.48, 1.03, 2.13, [4.95, 4.6, 4.15, 3.1, 3.0, 2.9, 2.75, -1.85]]],
  [[-0.87, -0.15, 0.21, 0.75, 1.95, [5.6, 5.45, 4.7, 3.35, 2.5, 2.35]], [-1.25, 0.87, 1.54, 2.36, 4.37, []], [-1.14, 0.19, 1.1, 1.73, 3.87, [5.15]]],
  [[-0.38, -0.11, 0.06, 0.15, 0.5, [0.66, -0.7, -1.3]], [-0.8, 0.24, 0.51, 1.29, 2.9, [3.3, 3.2, 3.1, 3.0]], [-0.26, 0.24, 0.48, 0.64, 1.23, [2.65, 2.3, 2.1, 1.95, 1.8, 1.65, 1.5, 1.35, -0.35]]],
  [[-0.38, -0.03, 0.21, 0.33, 1.05, [3.87, 1.68, 1.23, -0.8]], [0.15, 0.82, 1.54, 2.25, 3.61, []], [-0.2, 0.46, 0.78, 1.05, 1.73, [2.57, 2.4, 1.9]]]
];

// Panels in reading order (target cell line i is highlighted at category i)
const panels = [targetHepG2, targetWERI, targetSJCRH30, targetK562, targetHeLaS3,
                targetNT2D1, targetGM12878, targetSKNSH, targetMCF7, target786O];

// ---- styling ----
const fills = ["#b3b0c5", "#4a4b6b", "#c1533e", "#1b7fa7"];
const lineGray = "#3f3f3f";
const gridGray = "#d0d0d0";
const highlight = "#1ab3ea";

const svg = d3.select("#chart");
const colLeft = [87.7, 602.3];
const plotW = 468, plotH = 186.7;
const rowTop0 = 74.3, rowStep = 242;

const defs = svg.append("defs");

panels.forEach((rows, p) => {
  const col = p % 2, row = Math.floor(p / 2);
  const x0 = colLeft[col], top = rowTop0 + row * rowStep, bottom = top + plotH;
  const isBottom = row === 4, isLeft = col === 0;

  const x = d3.scaleBand().domain(cellLines).range([x0, x0 + plotW]);
  const y = d3.scaleLinear().domain([-2, 8]).range([bottom, top]);
  const bw = x.bandwidth();
  const hue = d3.scaleBand().domain(d3.range(4)).range([0.1 * bw, 0.9 * bw]);
  const boxW = hue.bandwidth() * 0.96;

  const g = svg.append("g");

  // grid
  g.append("g").selectAll("line").data(yTicks).join("line")
    .attr("x1", x0).attr("x2", x0 + plotW)
    .attr("y1", d => y(d)).attr("y2", d => y(d))
    .attr("stroke", gridGray).attr("stroke-width", 1.2);
  g.append("g").selectAll("line").data(cellLines).join("line")
    .attr("x1", d => x(d) + bw / 2).attr("x2", d => x(d) + bw / 2)
    .attr("y1", top).attr("y2", bottom)
    .attr("stroke", gridGray).attr("stroke-width", 1.2);

  // clip to plotting area
  const clipId = "clip" + p;
  defs.append("clipPath").attr("id", clipId).append("rect")
    .attr("x", x0).attr("y", top).attr("width", plotW).attr("height", plotH);

  const boxes = [];
  cellLines.forEach((cl, i) => {
    const stats = [negControl[i], ...rows[i]];
    stats.forEach((s, h) => {
      boxes.push({ cx: x(cl) + hue(h) + hue.bandwidth() / 2, s, h });
    });
  });

  const bg = g.append("g").attr("clip-path", `url(#${clipId})`);
  const bx = bg.selectAll("g").data(boxes).join("g");

  // whiskers
  bx.append("line")
    .attr("x1", d => d.cx).attr("x2", d => d.cx)
    .attr("y1", d => y(d.s[0])).attr("y2", d => y(d.s[1]))
    .attr("stroke", lineGray).attr("stroke-width", 1.3);
  bx.append("line")
    .attr("x1", d => d.cx).attr("x2", d => d.cx)
    .attr("y1", d => y(d.s[3])).attr("y2", d => y(d.s[4]))
    .attr("stroke", lineGray).attr("stroke-width", 1.3);
  // caps
  [0, 4].forEach(k => {
    bx.append("line")
      .attr("x1", d => d.cx - boxW / 4).attr("x2", d => d.cx + boxW / 4)
      .attr("y1", d => y(d.s[k])).attr("y2", d => y(d.s[k]))
      .attr("stroke", lineGray).attr("stroke-width", 1.3);
  });
  // box body
  bx.append("rect")
    .attr("x", d => d.cx - boxW / 2).attr("width", boxW)
    .attr("y", d => y(d.s[3])).attr("height", d => Math.max(0.5, y(d.s[1]) - y(d.s[3])))
    .attr("fill", d => fills[d.h]).attr("stroke", lineGray).attr("stroke-width", 1.3);
  // median
  bx.append("line")
    .attr("x1", d => d.cx - boxW / 2).attr("x2", d => d.cx + boxW / 2)
    .attr("y1", d => y(d.s[2])).attr("y2", d => y(d.s[2]))
    .attr("stroke", lineGray).attr("stroke-width", 1.3);
  // outliers
  bx.selectAll("circle").data(d => d.s[5].map(v => ({ cx: d.cx, v }))).join("circle")
    .attr("cx", d => d.cx).attr("cy", d => y(d.v)).attr("r", 2.3)
    .attr("fill", "#c4c4c4").attr("stroke", "#4a4a4a").attr("stroke-width", 1.1);

  // frame
  g.append("rect").attr("x", x0).attr("y", top).attr("width", plotW).attr("height", plotH)
    .attr("fill", "none").attr("stroke", "#333").attr("stroke-width", 1.25);

  // y axis
  const ya = g.append("g").attr("transform", `translate(${x0},0)`)
    .call(d3.axisLeft(y).tickValues(yTicks).tickSize(6).tickPadding(6)
      .tickFormat(isLeft ? d3.format("d") : () => ""));
  ya.select(".domain").remove();
  ya.selectAll(".tick line").attr("stroke", "#333").attr("stroke-width", 1.2);
  ya.selectAll("text").attr("font-size", 16).attr("fill", "#111");

  // x axis
  const xa = g.append("g").attr("transform", `translate(0,${bottom})`)
    .call(d3.axisBottom(x).tickSize(6).tickFormat(isBottom ? (d => d) : () => ""));
  xa.select(".domain").remove();
  xa.selectAll(".tick line").attr("stroke", "#333").attr("stroke-width", 1.2);
  xa.selectAll("text")
    .attr("font-size", 16).attr("fill", "#111")
    .attr("transform", "rotate(-90)")
    .attr("text-anchor", "end")
    .attr("x", -11).attr("y", 0).attr("dy", "0.35em");

  // title
  g.append("text")
    .attr("x", x0 + plotW / 2).attr("y", top - 8)
    .attr("text-anchor", "middle").attr("font-size", 19)
    .text(`Sequences targeted to ${cellLines[p]} (${tissues[p]})`);

  // highlight on the targeted cell line
  const hx = x(cellLines[p]);
  g.append("rect")
    .attr("x", hx + 2.5).attr("width", bw - 3.5)
    .attr("y", top - 5).attr("height", plotH + 5 + (isBottom ? 62 : 15))
    .attr("fill", "none").attr("stroke", highlight).attr("stroke-width", 3);
});

// legend
const lg = svg.append("g");
lg.append("rect").attr("x", 122).attr("y", 8).attr("width", 912).attr("height", 25)
  .attr("rx", 3).attr("fill", "#fff").attr("stroke", "#cfcfcf").attr("stroke-width", 1);
let lx = 133;
seriesNames.forEach((name, i) => {
  lg.append("rect").attr("x", lx).attr("y", 14.5).attr("width", 33).attr("height", 12)
    .attr("fill", fills[i]).attr("stroke", lineGray).attr("stroke-width", 1.2);
  const t = lg.append("text").attr("x", lx + 46).attr("y", 26.5).attr("font-size", 16).text(name);
  lx += 46 + t.node().getComputedTextLength() + 34;
});

// axis titles
svg.append("text").attr("x", 563).attr("y", 1374).attr("text-anchor", "middle")
  .attr("font-size", 19).text("Cell line measured");
const yl = svg.append("text").attr("transform", "translate(25,645) rotate(-90)")
  .attr("text-anchor", "middle").attr("font-size", 19);
yl.append("tspan").text("log");
yl.append("tspan").attr("font-size", 13).attr("dy", 5).text("2");
yl.append("tspan").attr("dy", -5).text("(RNA/DNA)");
</script>
</body>
</html>
